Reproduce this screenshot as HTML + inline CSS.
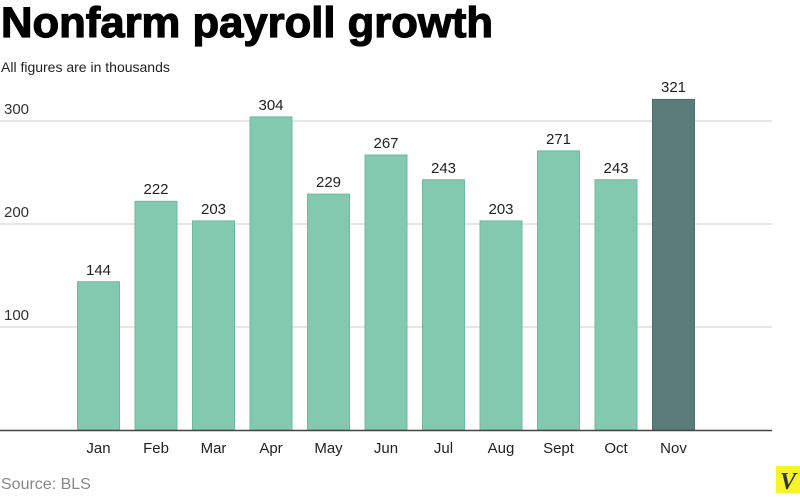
<!DOCTYPE html>
<html><head><meta charset="utf-8"><style>
html,body{margin:0;padding:0;background:#fff;}
svg{display:block;font-family:"Liberation Sans",sans-serif;}
</style></head><body>
<svg width="800" height="498" viewBox="0 0 800 498" xmlns="http://www.w3.org/2000/svg">
<text x="1" y="37" font-size="43" font-weight="bold" fill="#000" stroke="#000" stroke-width="1.2" textLength="492" lengthAdjust="spacingAndGlyphs">Nonfarm payroll growth</text>
<text x="1" y="72" font-size="14" fill="#222">All figures are in thousands</text>
<g stroke="#ddd" stroke-width="1.5">
<line x1="0" y1="121" x2="772" y2="121"/>
<line x1="0" y1="224" x2="772" y2="224"/>
<line x1="0" y1="327" x2="772" y2="327"/>
</g>
<g font-size="15" fill="#333">
<text x="4" y="114">300</text>
<text x="4" y="217">200</text>
<text x="4" y="320">100</text>
</g>
<g fill="#82c9b0" stroke="#6dbb9f" stroke-width="1">
<rect x="77.5" y="281.7" width="42" height="148.3"/>
<rect x="135" y="201.3" width="42" height="228.7"/>
<rect x="192.5" y="220.9" width="42" height="209.1"/>
<rect x="250" y="116.9" width="42" height="313.1"/>
<rect x="307.5" y="194.1" width="42" height="235.9"/>
<rect x="365" y="155" width="42" height="275"/>
<rect x="422.5" y="179.7" width="42" height="250.3"/>
<rect x="480" y="220.9" width="42" height="209.1"/>
<rect x="537.5" y="150.9" width="42" height="279.1"/>
<rect x="595" y="179.7" width="42" height="250.3"/>
</g>
<rect x="652.5" y="99.4" width="42" height="330.6" fill="#5a7d7c" stroke="#4b6d6c" stroke-width="1"/>
<line x1="0" y1="430.5" x2="772" y2="430.5" stroke="#444" stroke-width="1.5"/>
<g font-size="15" fill="#222" text-anchor="middle">
<text x="98.5" y="275">144</text>
<text x="156" y="194">222</text>
<text x="213.5" y="214">203</text>
<text x="271" y="110">304</text>
<text x="328.5" y="187">229</text>
<text x="386" y="148">267</text>
<text x="443.5" y="173">243</text>
<text x="501" y="214">203</text>
<text x="558.5" y="144">271</text>
<text x="616" y="173">243</text>
<text x="673.5" y="92">321</text>
</g>
<g font-size="15" fill="#222" text-anchor="middle">
<text x="98.5" y="453">Jan</text>
<text x="156" y="453">Feb</text>
<text x="213.5" y="453">Mar</text>
<text x="271" y="453">Apr</text>
<text x="328.5" y="453">May</text>
<text x="386" y="453">Jun</text>
<text x="443.5" y="453">Jul</text>
<text x="501" y="453">Aug</text>
<text x="558.5" y="453">Sept</text>
<text x="616" y="453">Oct</text>
<text x="673.5" y="453">Nov</text>
</g>
<text x="1" y="489" font-size="16" fill="#888">Source: BLS</text>
<rect x="776" y="466" width="24" height="27" fill="#f4f428"/>
<text x="788" y="489" font-size="24" font-weight="bold" font-style="italic" font-family="Liberation Serif,serif" fill="#333" text-anchor="middle">V</text>
</svg>
</body></html>
